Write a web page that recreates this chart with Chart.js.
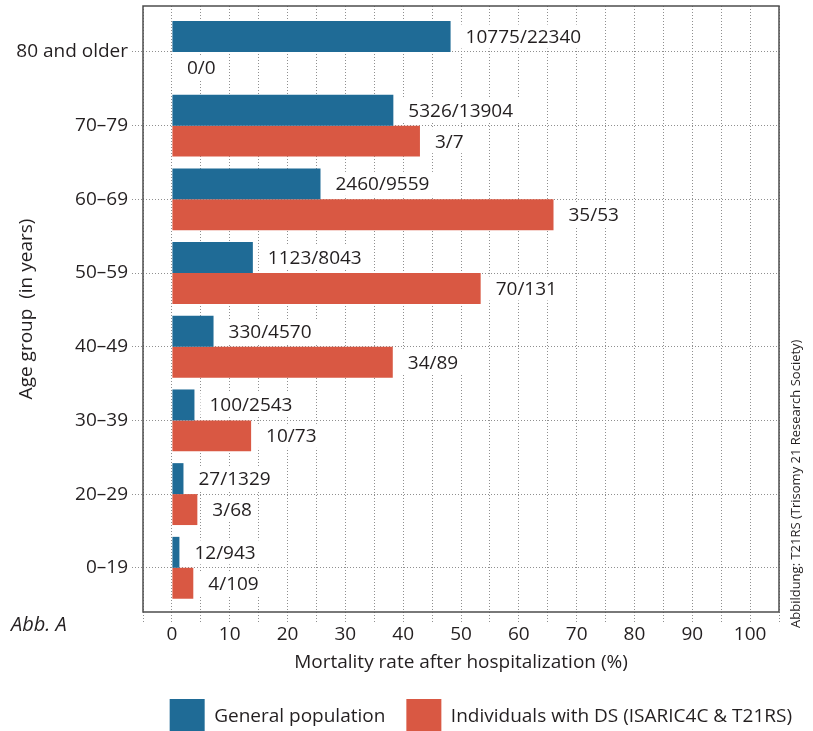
<!DOCTYPE html>
<html>
<head>
<meta charset="utf-8">
<script src="https://cdn.jsdelivr.net/npm/chart.js@4/dist/chart.umd.min.js"></script>
<style>
  html, body { margin: 0; padding: 0; background: #fff; overflow: hidden; }
  canvas { display: block; }
</style>
</head>
<body>
<canvas id="chart" width="813" height="744"></canvas>
<script>
// Daten
const ageGroups = ['80 and older', '70–79', '60–69', '50–59', '40–49', '30–39', '20–29', '0–19'];
const generalRate = [48.2, 38.3, 25.7, 14.0, 7.2, 3.9, 2.0, 1.3];
const dsRate = [0, 42.9, 66.0, 53.4, 38.2, 13.7, 4.4, 3.7];
const generalText = ['10775/22340', '5326/13904', '2460/9559', '1123/8043', '330/4570', '100/2543', '27/1329', '12/943'];
const dsText = ['0/0', '3/7', '35/53', '70/131', '34/89', '10/73', '3/68', '4/109'];
const xTicks = [0, 10, 20, 30, 40, 50, 60, 70, 80, 90, 100];

const FONT = '"Open Sans", "Noto Sans", sans-serif';
const INK = '#231f20';
const GRID = '#8f8f8f';

// Rahmen + Texte ausserhalb der Achsen
const framePlugin = {
  id: 'frame',
  afterDraw(chart) {
    const { ctx, chartArea: a } = chart;
    ctx.save();
    ctx.strokeStyle = '#4d4d4d';
    ctx.lineWidth = 1.5;
    ctx.strokeRect(a.left, a.top, a.right - a.left, a.bottom - a.top);

    ctx.fillStyle = INK;
    ctx.font = 'italic 20px ' + FONT;
    ctx.textAlign = 'left';
    ctx.textBaseline = 'alphabetic';
    ctx.fillText('Abb. A', 11, 631);

    ctx.translate(796, 628);
    ctx.rotate(-Math.PI / 2);
    ctx.font = '13px ' + FONT;
    ctx.textBaseline = 'middle';
    ctx.fillText('Abbildung: T21RS (Trisomy 21 Research Society)', 0, 0);
    ctx.restore();
  }
};

// Beschriftung rechts neben den Balken
const barLabels = {
  id: 'barLabels',
  afterDatasetsDraw(chart) {
    const { ctx } = chart;
    const texts = [generalText, dsText];
    ctx.save();
    ctx.font = '19px ' + FONT;
    ctx.textBaseline = 'middle';
    ctx.textAlign = 'left';
    chart.data.datasets.forEach((ds, d) => {
      chart.getDatasetMeta(d).data.forEach((bar, i) => {
        const t = texts[d][i];
        const x = bar.x + 15;
        const w = ctx.measureText(t).width;
        ctx.fillStyle = '#fff';
        ctx.fillRect(bar.x + 6, bar.y - 12, w + 15, 24);
        ctx.fillStyle = INK;
        ctx.fillText(t, x, bar.y + 1);
      });
    });
    ctx.restore();
  }
};

new Chart(document.getElementById('chart'), {
  type: 'bar',
  data: {
    datasets: [{
      label: 'General population',
      data: generalRate.map((v, i) => ({ x: v, y: i })),
      backgroundColor: '#1f6b96'
    }, {
      label: 'Individuals with DS (ISARIC4C & T21RS)',
      data: dsRate.map((v, i) => ({ x: v, y: i })),
      backgroundColor: '#d95843'
    }]
  },
  options: {
    indexAxis: 'y',
    responsive: false,
    animation: false,
    categoryPercentage: 0.84,
    barPercentage: 1,
    layout: { padding: { top: 6, left: 0, right: 0, bottom: 0 } },
    plugins: {
      tooltip: { enabled: false },
      legend: {
        position: 'bottom',
        align: 'end',
        labels: {
          boxWidth: 35,
          boxHeight: 35,
          padding: 21,
          color: INK,
          font: { family: FONT, size: 19 }
        }
      }
    },
    scales: {
      x: {
        type: 'linear',
        min: -5,
        max: 105,
        afterFit: s => { s.height = 66; },
        ticks: {
          stepSize: 5,
          padding: 1,
          color: INK,
          font: { family: FONT, size: 19 },
          autoSkip: false,
          maxRotation: 0,
          callback: v => xTicks.includes(v) ? v : ''
        },
        grid: {
          color: GRID,
          lineWidth: 1,
          tickColor: GRID,
          tickLength: 10,
          tickBorderDash: [1, 2]
        },
        border: { display: false, dash: [1, 2] },
        title: {
          display: true,
          text: 'Mortality rate after hospitalization (%)',
          color: INK,
          font: { family: FONT, size: 19 },
          padding: { top: 0, bottom: 4 }
        }
      },
      y: {
        type: 'linear',
        reverse: true,
        offset: false,
        min: -0.624,
        max: 7.6,
        afterFit: s => { s.width = 143; s.paddingTop = 0; s.paddingBottom = 0; },
        ticks: {
          stepSize: 1,
          includeBounds: false,
          autoSkip: false,
          padding: 4,
          color: INK,
          font: { family: FONT, size: 19 },
          callback: v => ageGroups[v] !== undefined ? ageGroups[v] : ''
        },
        grid: {
          offset: false,
          color: GRID,
          tickColor: GRID,
          tickLength: 11,
          tickBorderDash: [1, 2]
        },
        border: { display: false, dash: [1, 2] },
        title: {
          display: true,
          text: 'Age group  (in years)',
          color: INK,
          font: { family: FONT, size: 19 },
          padding: { top: 15, bottom: 0 }
        }
      },
      // nur Platzhalter rechts fuer die Quellenangabe
      y2: {
        type: 'linear',
        position: 'right',
        afterFit: s => { s.width = 34; },
        ticks: { display: false },
        grid: { display: false },
        border: { display: false }
      }
    }
  },
  plugins: [barLabels, framePlugin]
});
</script>
</body>
</html>
